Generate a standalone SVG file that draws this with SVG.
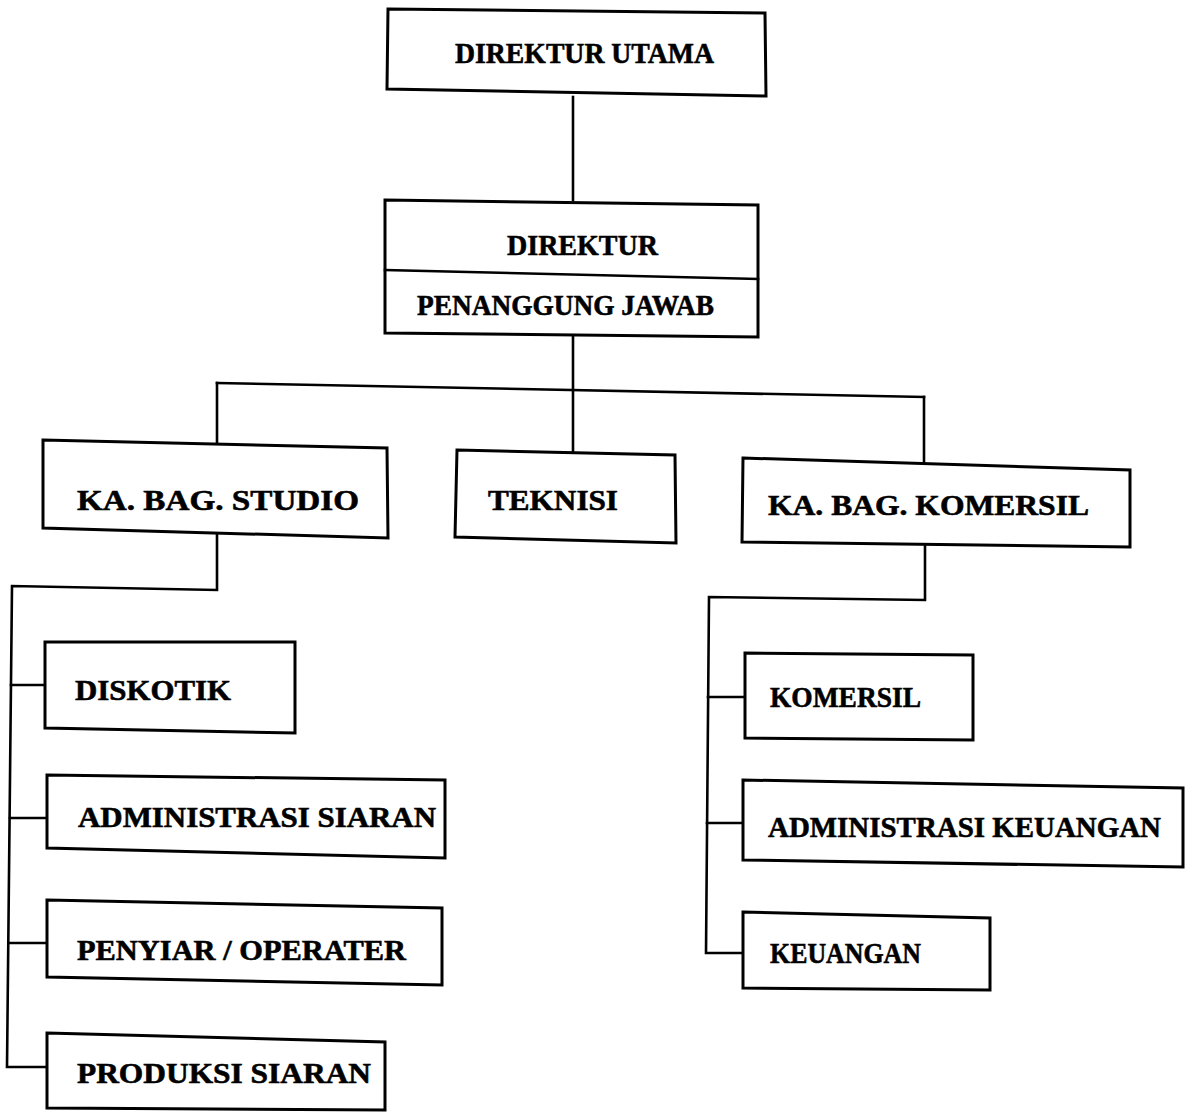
<svg xmlns="http://www.w3.org/2000/svg" width="1187" height="1113" viewBox="0 0 1187 1113">
<style>
.box{fill:#fff;stroke:#000;stroke-width:3;stroke-linejoin:miter}
.ln{fill:none;stroke:#000;stroke-width:2.6;stroke-linecap:square}
.t{font-family:"Liberation Serif","Times New Roman",serif;font-weight:bold;font-size:30px;fill:#000;stroke:#000;stroke-width:0.6}
</style>
<rect width="1187" height="1113" fill="#fff"/>
<g id="connectors">
<path class="ln" d="M573 97 L573 200"/>
<path class="ln" d="M573 337 L573 452"/>
<path class="ln" d="M217 383 L924 397"/>
<path class="ln" d="M217 383 L217 444"/>
<path class="ln" d="M924 397 L924 464"/>
<path class="ln" d="M217 534 L217 590 L12 586 L7 1067 L47 1067"/>
<path class="ln" d="M11 685 L45 685"/>
<path class="ln" d="M10 818 L47 818"/>
<path class="ln" d="M9 943 L47 943"/>
<path class="ln" d="M925 545 L925 600 L709 597 L706 953 L743 953"/>
<path class="ln" d="M708 697 L745 697"/>
<path class="ln" d="M707 823 L743 823"/>
</g>
<g id="direktur-utama">
<polygon class="box" points="388,9 765,13 766,96 387,89"/>
<text class="t" x="455" y="63" textLength="259" lengthAdjust="spacingAndGlyphs">DIREKTUR UTAMA</text>
</g>
<g id="direktur">
<polygon class="box" points="385,200 758,205 758,337 385,333"/>
<path class="ln" d="M385 270 L758 279"/>
<text class="t" x="507" y="255" textLength="151" lengthAdjust="spacingAndGlyphs">DIREKTUR</text>
<text class="t" x="417" y="315" textLength="297" lengthAdjust="spacingAndGlyphs">PENANGGUNG JAWAB</text>
</g>
<g id="ka-bag-studio">
<polygon class="box" points="43,440 387,448 388,538 43,528"/>
<text class="t" x="77" y="510" textLength="282" lengthAdjust="spacingAndGlyphs">KA. BAG. STUDIO</text>
</g>
<g id="teknisi">
<polygon class="box" points="457,450 675,455 676,543 455,537"/>
<text class="t" x="488" y="510" textLength="130" lengthAdjust="spacingAndGlyphs">TEKNISI</text>
</g>
<g id="ka-bag-komersil">
<polygon class="box" points="743,458 1130,470 1130,547 742,542"/>
<text class="t" x="768" y="515" textLength="321" lengthAdjust="spacingAndGlyphs">KA. BAG. KOMERSIL</text>
</g>
<g id="diskotik">
<polygon class="box" points="45,642 295,642 295,733 45,728"/>
<text class="t" x="75" y="700" textLength="156" lengthAdjust="spacingAndGlyphs">DISKOTIK</text>
</g>
<g id="administrasi-siaran">
<polygon class="box" points="47,775 445,780 445,858 47,848"/>
<text class="t" x="78" y="827" textLength="358" lengthAdjust="spacingAndGlyphs">ADMINISTRASI SIARAN</text>
</g>
<g id="penyiar-operater">
<polygon class="box" points="47,900 442,908 442,985 47,977"/>
<text class="t" x="77" y="960" textLength="329" lengthAdjust="spacingAndGlyphs">PENYIAR / OPERATER</text>
</g>
<g id="produksi-siaran">
<polygon class="box" points="47,1033 385,1042 385,1110 47,1108"/>
<text class="t" x="77" y="1083" textLength="294" lengthAdjust="spacingAndGlyphs">PRODUKSI SIARAN</text>
</g>
<g id="komersil">
<polygon class="box" points="745,653 973,655 973,740 745,738"/>
<text class="t" x="770" y="707" textLength="151" lengthAdjust="spacingAndGlyphs">KOMERSIL</text>
</g>
<g id="administrasi-keuangan">
<polygon class="box" points="743,780 1183,788 1183,867 743,860"/>
<text class="t" x="768" y="837" textLength="393" lengthAdjust="spacingAndGlyphs">ADMINISTRASI KEUANGAN</text>
</g>
<g id="keuangan">
<polygon class="box" points="743,912 990,918 990,990 743,988"/>
<text class="t" x="770" y="963" textLength="151" lengthAdjust="spacingAndGlyphs">KEUANGAN</text>
</g>
</svg>
